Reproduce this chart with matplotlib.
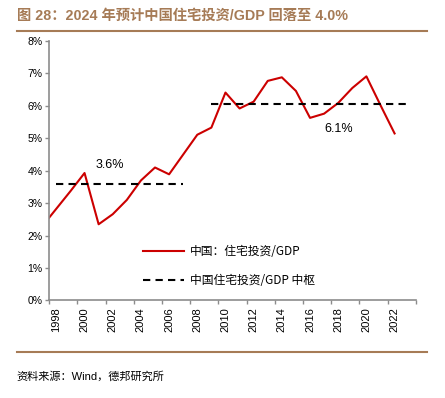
import numpy as np
import matplotlib.pyplot as plt

plt.rcParams['font.family'] = ['Liberation Sans', 'Noto Sans CJK SC', 'DejaVu Sans']

# 住宅投资/GDP (%)，1997 点只用于左侧起笔，被坐标轴裁掉
years = list(range(1997, 2023))
ratio = [2.29, 2.83, 3.37, 3.93, 2.35, 2.66, 3.10, 3.70, 4.10, 3.89, 4.50,
         5.11, 5.33, 6.41, 5.92, 6.13, 6.77, 6.88, 6.46, 5.63, 5.76, 6.09,
         6.55, 6.91, 6.02, 5.15]

# 中枢
center1_years = [1998, 2007]
center1 = [3.6, 3.6]
center2_years = [2009, 2023]
center2 = [6.05, 6.05]

tick_years = list(range(1998, 2024, 2))
yticks = [0, 1, 2, 3, 4, 5, 6, 7, 8]

brown = '#a67b56'
red = '#cc0000'
axcol = '#8c8c8c'

fig = plt.figure(figsize=(4.45, 3.98), dpi=100)
ax = fig.add_axes([0.1108, 0.245, 0.8234, 0.652])

ax.plot(years, ratio, color=red, lw=1.5, label='中国：住宅投资/GDP', clip_on=True)
ax.plot(center1_years, center1, color='black', lw=1.5, ls=(0, (3.5, 2.5)),
        label='中国住宅投资/GDP 中枢')
ax.plot(center2_years, center2, color='black', lw=1.5, ls=(0, (3.5, 2.5)))

ax.text(2001.8, 3.98, '3.6%', fontsize=9, ha='center', va='bottom')
ax.text(2018.0, 5.3, '6.1%', fontsize=9, ha='center', va='center')

ax.set_xlim(1997.5, 2023.5)
ax.set_ylim(0, 8)
ax.set_yticks(yticks)
ax.set_yticklabels([f'{v}%' for v in yticks], fontsize=7.5)
# 类别轴：刻度在类别之间，标签在类别中心
ax.set_xticks([y - 0.5 for y in tick_years] + [2023.5])
ax.set_xticklabels([])
ax.set_xticks(tick_years, minor=True)
ax.set_xticklabels([str(y) for y in tick_years], minor=True, rotation=90, fontsize=8)
ax.tick_params(axis='x', which='minor', length=0, pad=5)
ax.tick_params(axis='both', which='major', length=3, color=axcol, width=1)
ax.tick_params(axis='y', pad=2)

for s in ['top', 'right']:
    ax.spines[s].set_visible(False)
for s in ['left', 'bottom']:
    ax.spines[s].set_color(axcol)
    ax.spines[s].set_linewidth(1.2)

leg = ax.legend(loc='lower left', bbox_to_anchor=(0.228, 0.012), frameon=False,
                handlelength=3.4, handletextpad=0.55, labelspacing=1.35,
                prop={'family': ['Noto Sans CJK SC'], 'size': 8.5})

fig.text(0.038, 0.96, '图 28：2024 年预计中国住宅投资/GDP 回落至 4.0%', color=brown,
         fontsize=10.3, fontweight='bold', va='center', ha='left',
         family=['Liberation Sans', 'Noto Sans CJK SC'])
fig.add_artist(plt.Line2D([0.038, 0.96], [0.922, 0.922], color=brown, lw=1.5))
fig.add_artist(plt.Line2D([0.038, 0.96], [0.116, 0.116], color=brown, lw=1.5))
fig.text(0.038, 0.053, '资料来源：Wind，德邦研究所', fontsize=8, va='center', ha='left',
         family=['Liberation Sans', 'Noto Sans CJK SC'])

fig.savefig('out.png', dpi=100)
